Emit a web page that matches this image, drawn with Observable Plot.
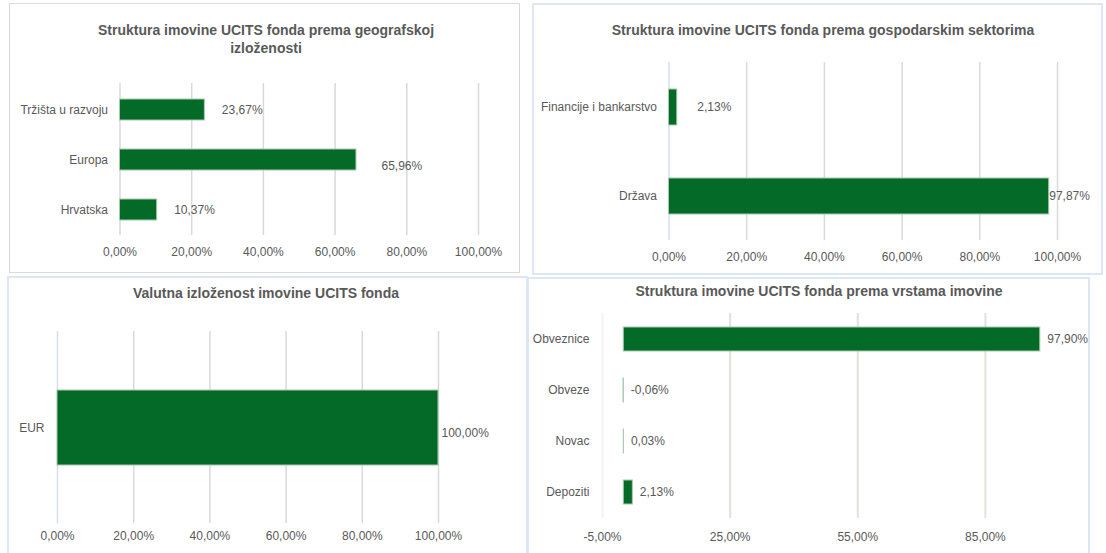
<!DOCTYPE html>
<html>
<head>
<meta charset="utf-8">
<script src="https://cdn.jsdelivr.net/npm/d3@7"></script>
<script src="https://cdn.jsdelivr.net/npm/@observablehq/plot@0.6"></script>
<style>
  html, body { margin: 0; padding: 0; background: #fff; }
  body { width: 1106px; height: 553px; position: relative; overflow: hidden;
         font-family: "Liberation Sans Narrow", "Arial Narrow", "Liberation Sans", sans-serif; }
  .box { position: absolute; box-sizing: border-box; background: #fff; }
  .title { position: absolute; text-align: center; font-weight: bold; font-size: 14px;
           color: #595959; line-height: 18px; white-space: nowrap; }
  .plot { position: absolute; }
</style>
</head>
<body>
<script>
// ---- data ----
const geoCategories = ["Tržišta u razvoju", "Europa", "Hrvatska"];
const geoValues = [23.67, 65.96, 10.37];

const sectorCategories = ["Financije i bankarstvo", "Država"];
const sectorValues = [2.13, 97.87];

const currencyCategories = ["EUR"];
const currencyValues = [100.00];

const assetCategories = ["Obveznice", "Obveze", "Novac", "Depoziti"];
const assetValues = [97.90, -0.06, 0.03, 2.13];

const ticksPct = [0, 20, 40, 60, 80, 100];
const ticksAsset = [-5, 25, 55, 85];

const titles = [
  "Struktura imovine UCITS fonda prema geografskoj<br>izloženosti",
  "Struktura imovine UCITS fonda prema gospodarskim sektorima",
  "Valutna izloženost imovine UCITS fonda",
  "Struktura imovine UCITS fonda prema vrstama imovine"
];

// ---- helpers ----
const fmt = v => v.toFixed(2).replace(".", ",") + "%";
const GREEN = "#046a27";
const FONT = '"Liberation Sans Narrow", "Arial Narrow", "Liberation Sans", sans-serif';

function addBox(left, top, width, height, border) {
  const d = document.createElement("div");
  d.className = "box";
  Object.assign(d.style, {left: left + "px", top: top + "px", width: width + "px", height: height + "px", border: border});
  document.body.appendChild(d);
}
function addTitle(html, cx, top) {
  const d = document.createElement("div");
  d.className = "title";
  d.innerHTML = html;
  Object.assign(d.style, {left: (cx - 300) + "px", width: "600px", top: top + "px"});
  document.body.appendChild(d);
}
function addPlot(svg, left, top) {
  svg.classList.add("plot");
  svg.style.left = left + "px";
  svg.style.top = top + "px";
  document.body.appendChild(svg);
}

function barPanel(o) {
  const data = o.cats.map((c, i) => ({cat: c, value: o.vals[i]}));
  const first = o.ticks[0];
  return Plot.plot({
    width: o.width, height: o.height,
    marginLeft: o.ml, marginRight: o.mr, marginTop: o.mt, marginBottom: o.mb,
    style: {fontFamily: FONT, fontSize: "12px", color: "#595959", background: "transparent"},
    x: {domain: o.domain, ticks: o.ticks, tickFormat: fmt, tickSize: 0, tickPadding: o.xpad, label: null},
    y: {domain: o.cats, paddingInner: o.pi, paddingOuter: o.pi / 2, tickSize: 0, tickPadding: o.ypad, label: null},
    marks: [
      Plot.ruleX(o.ticks.filter(t => t !== first), {stroke: o.gridColor, strokeWidth: o.gridWidth}),
      Plot.ruleX([first], {stroke: o.axisColor, strokeWidth: o.gridWidth}),
      Plot.barX(data, {x: "value", y: "cat", fill: GREEN, stroke: "#a7c8ad", strokeWidth: 1}),
      ...o.labels.map(l => Plot.text(data.filter(l.filter), {
        x: d => Math.max(0, d.value), y: "cat", text: d => fmt(d.value),
        textAnchor: "start", dx: l.dx, dy: l.dy || 0, fill: "#595959"
      }))
    ]
  });
}

// ---- panel 1: geography ----
addBox(9, 3, 511, 270, "1.5px solid #d9d9d9");
addTitle(titles[0], 266, 21);
addPlot(barPanel({
  cats: geoCategories, vals: geoValues, width: 510, height: 212,
  ml: 110.5, mr: 41, mt: 23, mb: 37, domain: [0, 100], ticks: ticksPct,
  xpad: 12, ypad: 12, pi: 0.59, gridColor: "#d9d9d9", axisColor: "#d9d9d9", gridWidth: 1.5,
  labels: [{filter: d => d.value < 50, dx: 17}, {filter: d => d.value >= 50, dx: 25, dy: 6}]
}), 9, 60);

// ---- panel 2: sectors ----
addBox(532, 3, 571, 272, "2px solid #dce6f4");
addTitle(titles[1], 823, 21);
addPlot(barPanel({
  cats: sectorCategories, vals: sectorValues, width: 570, height: 219,
  ml: 136.5, mr: 45, mt: 7, mb: 34, domain: [0, 100], ticks: ticksPct,
  xpad: 12, ypad: 12, pi: 0.6, gridColor: "#d9d9d9", axisColor: "#d3dff0", gridWidth: 1.5,
  labels: [{filter: d => d.value < 90, dx: 20}, {filter: d => d.value >= 90, dx: 0}]
}), 532, 55);

// ---- panel 3: currency ----
addBox(7, 276, 521, 280, "2px solid #dce6f4");
addTitle(titles[2], 266, 284);
addPlot(barPanel({
  cats: currencyCategories, vals: currencyValues, width: 520, height: 238,
  ml: 50, mr: 89, mt: 18, mb: 28, domain: [0, 100], ticks: ticksPct,
  xpad: 8, ypad: 13, pi: 0.61, gridColor: "#d9d9d9", axisColor: "#d3dff0", gridWidth: 1.5,
  labels: [{filter: () => true, dx: 3, dy: 5}]
}), 7, 313);

// ---- panel 4: asset types ----
addBox(527, 277, 563, 280, "2px solid #dce6f4");
addTitle(titles[3], 819, 282);
addPlot(barPanel({
  cats: assetCategories, vals: assetValues, width: 562, height: 248,
  ml: 75, mr: 19, mt: 8, mb: 35, domain: [-5, 105], ticks: ticksAsset,
  xpad: 14, ypad: 13, pi: 0.53, gridColor: "#e4e1d4", axisColor: "#f4f3ef", gridWidth: 2,
  labels: [{filter: () => true, dx: 7}]
}), 527, 305);
</script>
</body>
</html>
